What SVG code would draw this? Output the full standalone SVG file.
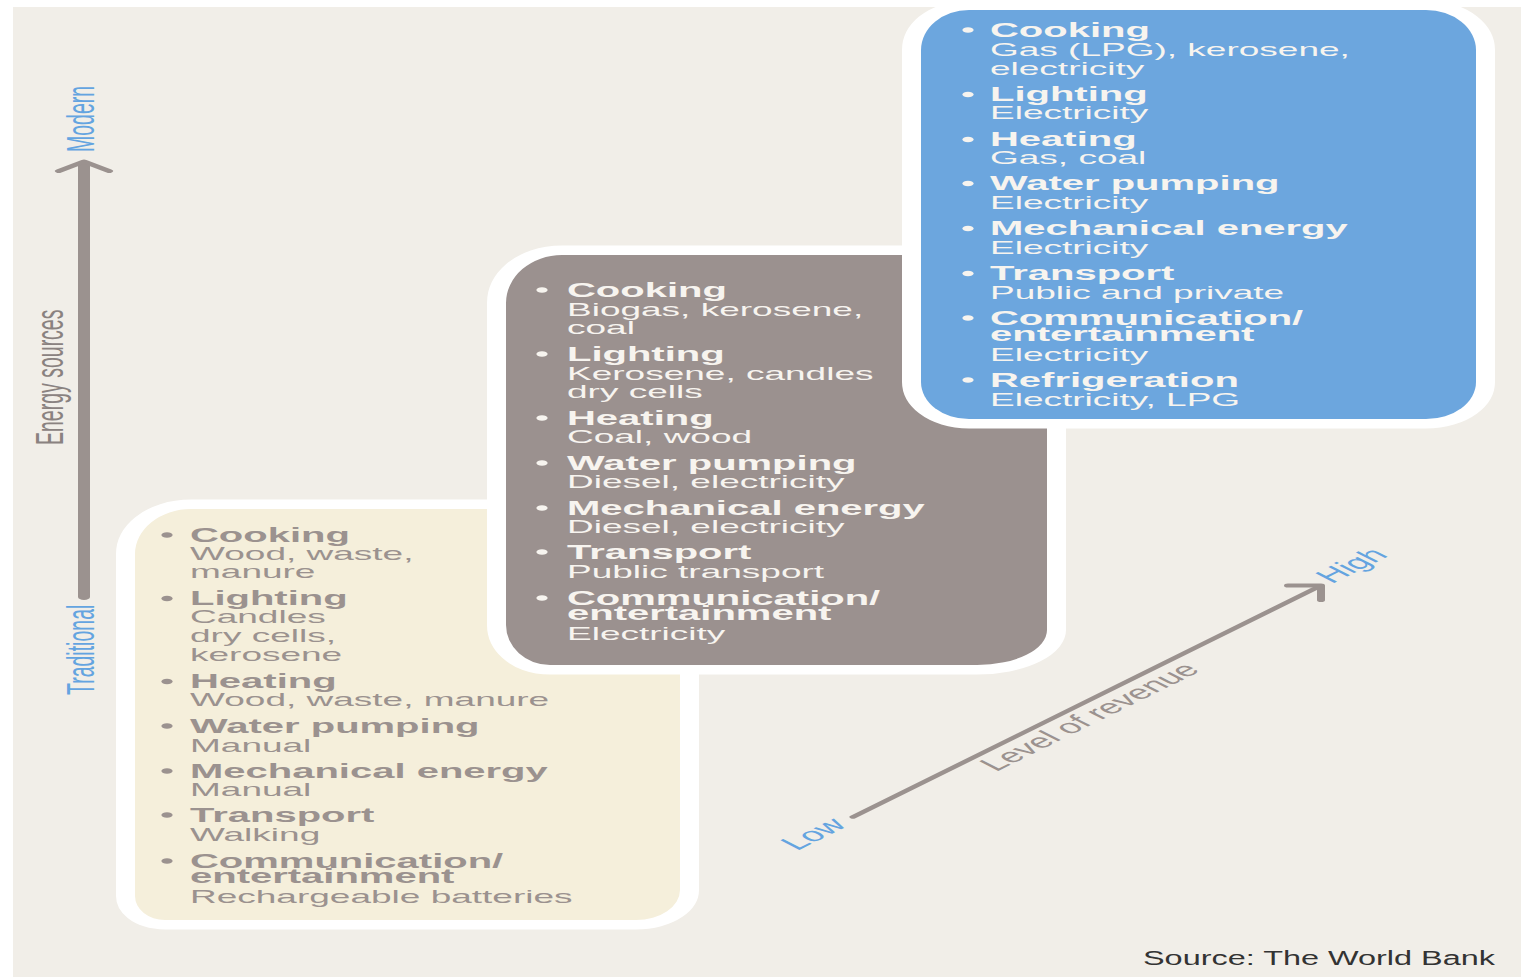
<svg xmlns="http://www.w3.org/2000/svg" width="1521" height="977" viewBox="0 0 1521 977">
<style>
.h{font-family:"Liberation Sans",Arial,sans-serif;font-weight:bold;font-size:20px}
.s{font-family:"Liberation Sans",Arial,sans-serif;font-size:18.5px}
.box{stroke:#ffffff;stroke-width:19;paint-order:stroke}
.gray{fill:#9b928f}
.white{fill:#f7f4ef}
.ax{fill:none;stroke:#9b928f;stroke-linecap:round;stroke-linejoin:round}
.lbl{font-family:"Liberation Sans",Arial,sans-serif;font-size:19.5px}
.blue{fill:#64a4e0}
</style>
<rect x="0" y="0" width="1521" height="977" fill="#ffffff"/>
<rect x="13" y="7" width="1508" height="970" fill="#f1eee8"/>

<g id="node-traditional" transform="scale(2 1)">
<path class="box" fill="#f5efdb" d="M67.5,554 A28,45 0 0 1 95.5,509 H320 A20,30 0 0 1 340,539 V890 A22,30 0 0 1 318,920 H82.5 A15,24 0 0 1 67.5,896 Z"/>
<g class="gray">
<circle cx="83.5" cy="535" r="2.8"/><circle cx="83.5" cy="598.5" r="2.8"/><circle cx="83.5" cy="681.5" r="2.8"/><circle cx="83.5" cy="726" r="2.8"/><circle cx="83.5" cy="771" r="2.8"/><circle cx="83.5" cy="815" r="2.8"/><circle cx="83.5" cy="861" r="2.8"/>
<text class="h" x="95" y="542">Cooking</text>
<text class="s" x="95" y="560">Wood, waste,</text>
<text class="s" x="95" y="578">manure</text>
<text class="h" x="95" y="605.5">Lighting</text>
<text class="s" x="95" y="623.5">Candles</text>
<text class="s" x="95" y="642.5">dry cells,</text>
<text class="s" x="95" y="661">kerosene</text>
<text class="h" x="95" y="688.5">Heating</text>
<text class="s" x="95" y="706">Wood, waste, manure</text>
<text class="h" x="95" y="733">Water pumping</text>
<text class="s" x="95" y="752">Manual</text>
<text class="h" x="95" y="778">Mechanical energy</text>
<text class="s" x="95" y="796">Manual</text>
<text class="h" x="95" y="822">Transport</text>
<text class="s" x="95" y="841">Walking</text>
<text class="h" x="95" y="868">Communication/</text>
<text class="h" x="95" y="883.5">entertainment</text>
<text class="s" x="95" y="903">Rechargeable batteries</text>
</g>
</g>

<g id="node-transitional" transform="scale(2 1)">
<path class="box" fill="#9b918f" d="M253,303 A28,48 0 0 1 281,255 H503.5 A20,30 0 0 1 523.5,285 V630 A35,35 0 0 1 488.5,665 H275 A22,40 0 0 1 253,625 Z"/>
<g class="white">
<circle cx="271" cy="290" r="2.8"/><circle cx="271" cy="354" r="2.8"/><circle cx="271" cy="418" r="2.8"/><circle cx="271" cy="463" r="2.8"/><circle cx="271" cy="508" r="2.8"/><circle cx="271" cy="552" r="2.8"/><circle cx="271" cy="598" r="2.8"/>
<text class="h" x="283.5" y="297">Cooking</text>
<text class="s" x="283.5" y="316">Biogas, kerosene,</text>
<text class="s" x="283.5" y="334">coal</text>
<text class="h" x="283.5" y="361">Lighting</text>
<text class="s" x="283.5" y="380">Kerosene, candles</text>
<text class="s" x="283.5" y="398">dry cells</text>
<text class="h" x="283.5" y="425">Heating</text>
<text class="s" x="283.5" y="443">Coal, wood</text>
<text class="h" x="283.5" y="470">Water pumping</text>
<text class="s" x="283.5" y="488">Diesel, electricity</text>
<text class="h" x="283.5" y="515">Mechanical energy</text>
<text class="s" x="283.5" y="533">Diesel, electricity</text>
<text class="h" x="283.5" y="559">Transport</text>
<text class="s" x="283.5" y="578">Public transport</text>
<text class="h" x="283.5" y="605">Communication/</text>
<text class="h" x="283.5" y="620.5">entertainment</text>
<text class="s" x="283.5" y="640">Electricity</text>
</g>
</g>

<g id="node-modern" transform="scale(2 1)">
<path class="box" fill="#6ca6de" d="M460.5,50 A24,40 0 0 1 484.5,10 H713 A25,40 0 0 1 738,50 V382 A25,37 0 0 1 713,419 H484.5 A24,37 0 0 1 460.5,382 Z"/>
<g class="white">
<circle cx="484" cy="30" r="2.8"/><circle cx="484" cy="94.5" r="2.8"/><circle cx="484" cy="139.5" r="2.8"/><circle cx="484" cy="183.5" r="2.8"/><circle cx="484" cy="228.5" r="2.8"/><circle cx="484" cy="273.5" r="2.8"/><circle cx="484" cy="318" r="2.8"/><circle cx="484" cy="380" r="2.8"/>
<text class="h" x="495" y="37">Cooking</text>
<text class="s" x="495" y="56">Gas (LPG), kerosene,</text>
<text class="s" x="495" y="75">electricity</text>
<text class="h" x="495" y="101.5">Lighting</text>
<text class="s" x="495" y="119.5">Electricity</text>
<text class="h" x="495" y="146.5">Heating</text>
<text class="s" x="495" y="164.5">Gas, coal</text>
<text class="h" x="495" y="190.5">Water pumping</text>
<text class="s" x="495" y="209">Electricity</text>
<text class="h" x="495" y="235.5">Mechanical energy</text>
<text class="s" x="495" y="254">Electricity</text>
<text class="h" x="495" y="280.5">Transport</text>
<text class="s" x="495" y="299">Public and private</text>
<text class="h" x="495" y="325">Communication/</text>
<text class="h" x="495" y="341.5">entertainment</text>
<text class="s" x="495" y="361">Electricity</text>
<text class="h" x="495" y="387">Refrigeration</text>
<text class="s" x="495" y="406">Electricity, LPG</text>
</g>
</g>

<g id="connectors" transform="scale(2 1)">
<line class="ax" x1="42" y1="597" x2="42" y2="166" stroke-width="6"/>
<polyline class="ax" points="29.5,171 42,161.5 54.5,171" stroke-width="4"/>
<line class="ax" x1="426.5" y1="817" x2="659" y2="587" stroke-width="3.5"/>
<polyline class="ax" points="644,585.5 660.5,585.5 660.5,600" stroke-width="4"/>
</g>

<g id="axis-labels" transform="scale(2 1)">
<text class="lbl blue" transform="translate(47,152) rotate(-90)">Modern</text>
<text class="lbl blue" transform="translate(47,695) rotate(-90)">Traditional</text>
<text class="lbl" fill="#8a8280" transform="translate(31.5,445) rotate(-90)">Energy sources</text>
<text class="lbl" fill="#9b928f" font-size="19" transform="translate(498,772) rotate(-44.6)">Level of revenue</text>
<text class="lbl blue" font-size="21" transform="translate(398.5,851) rotate(-44.6)">Low</text>
<text class="lbl blue" font-size="21" transform="translate(666,584) rotate(-44.6)">High</text>
<text class="lbl" fill="#333333" font-size="18" x="571.5" y="965" textLength="176" lengthAdjust="spacingAndGlyphs">Source: The World Bank</text>
</g>
</svg>
